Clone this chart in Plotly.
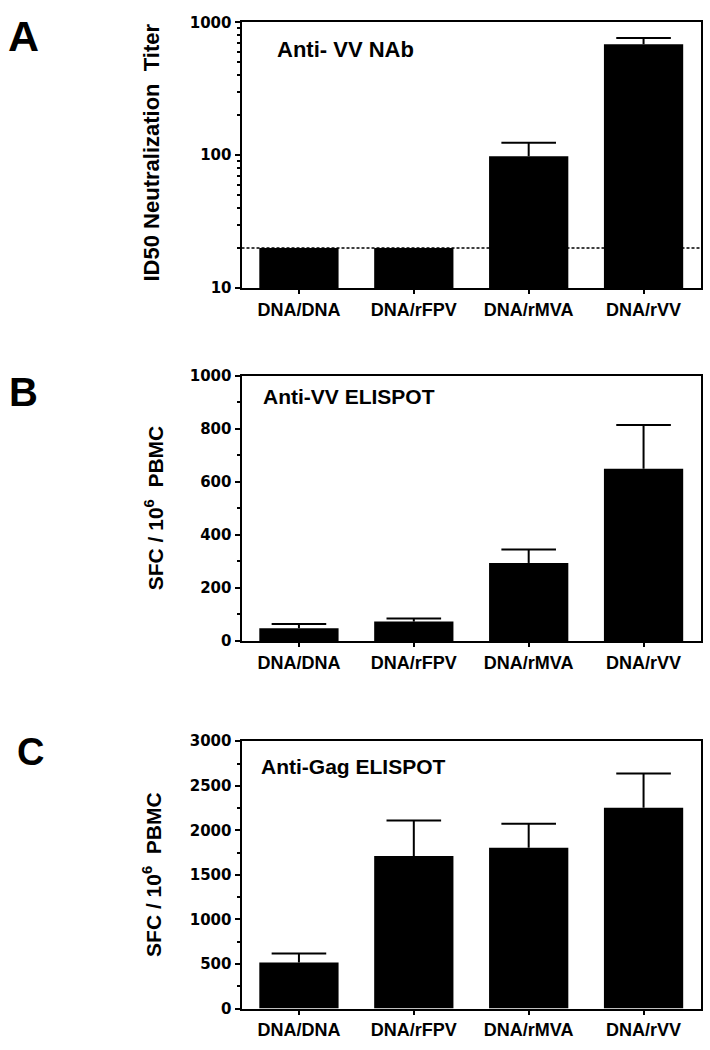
import math
import plotly.graph_objects as go

# ---------------- data ----------------
categories = ["DNA/DNA", "DNA/rFPV", "DNA/rMVA", "DNA/rVV"]

nab_titer = [20, 20, 98, 683]          # panel A, ID50 neutralization titer
nab_sem = [None, None, 26, 79]         # upward error
nab_limit = 20                         # detection limit (dotted line)

vv_sfc = [48, 73, 294, 649]            # panel B, anti-VV ELISPOT
vv_sem = [16, 12, 51, 165]

gag_sfc = [516, 1712, 1804, 2254]      # panel C, anti-Gag ELISPOT
gag_sem = [102, 399, 271, 384]

a_ticks = [10, 100, 1000]
a_minor = [20, 30, 40, 50, 60, 70, 80, 90, 200, 300, 400, 500, 600, 700, 800, 900]

# ---------------- layout helpers ----------------
W, H = 710, 1050


def px(x):
    return x / W


def py(y):
    return 1 - y / H


X_DOM = [px(241.5), px(701)]
Y_DOMS = [
    [py(284), py(13.5)],
    [py(643), py(373)],
    [py(1017), py(745)],
]

BOLD = "Liberation Sans, Arial, sans-serif"
TICKFONT_Y = dict(family="DejaVu Sans, sans-serif", size=15, color="black", weight="bold")
TICKFONT_X = dict(family=BOLD, size=18, color="black", weight="bold")

fig = go.Figure()


def add_bars(vals, errs, idx):
    suffix = "" if idx == 1 else str(idx)
    xa, ya = "x" + suffix, "y" + suffix
    fig.add_trace(go.Bar(
        x=categories, y=vals, xaxis=xa, yaxis=ya,
        marker=dict(color="black", line=dict(width=0)),
        showlegend=False, hoverinfo="x+y",
    ))
    # upward-only error bars: a cap marker at mean+error with a stem down to the mean
    tops = [None if e is None else v + e for v, e in zip(vals, errs)]
    down = [None if e is None else e for e in errs]
    fig.add_trace(go.Scatter(
        x=categories, y=tops, xaxis=xa, yaxis=ya, mode="markers",
        marker=dict(symbol="line-ew-open", size=39, color="black",
                    line=dict(color="black", width=2)),
        error_y=dict(type="data", symmetric=False, array=[0] * len(errs), arrayminus=down,
                     color="black", thickness=2, width=0),
        showlegend=False, hoverinfo="skip", cliponaxis=False,
    ))


add_bars(nab_titer, nab_sem, 1)
add_bars(vv_sfc, vv_sem, 2)
add_bars(gag_sfc, gag_sem, 3)

layout = dict(
    width=W, height=H,
    margin=dict(l=0, r=0, t=0, b=0),
    paper_bgcolor="white", plot_bgcolor="white",
    bargap=0.31,
    showlegend=False,
)

common_x = dict(
    domain=X_DOM, type="category", range=[-0.5, 3.5],
    showline=True, linecolor="black", linewidth=2, mirror=True,
    ticks="outside", ticklen=4, tickwidth=2, tickcolor="black",
    tickfont=TICKFONT_X, showgrid=False, zeroline=False,
)
common_y = dict(
    showline=True, linecolor="black", linewidth=2, mirror=True,
    ticks="outside", ticklen=5, tickwidth=2, tickcolor="black",
    tickfont=TICKFONT_Y, showgrid=False, zeroline=False,
)

a_lo, a_hi = math.log10(a_ticks[0]), math.log10(a_ticks[-1])

# panel A (log)
layout["xaxis"] = dict(common_x, anchor="y")
layout["yaxis"] = dict(common_y, anchor="x", domain=Y_DOMS[0], type="log",
                       range=[a_lo, a_hi],
                       tickmode="array", tickvals=a_ticks, ticktext=[str(t) for t in a_ticks],
                       minor=dict(tickmode="array", tickvals=a_minor, ticks="outside",
                                  ticklen=3, tickwidth=1.5, tickcolor="black", showgrid=False))
# panel B
layout["xaxis2"] = dict(common_x, anchor="y2")
layout["yaxis2"] = dict(common_y, anchor="x2", domain=Y_DOMS[1], range=[0, 1000],
                        tickmode="linear", tick0=0, dtick=200,
                        minor=dict(dtick=100, ticks="outside", ticklen=3, tickwidth=1.5,
                                   tickcolor="black", showgrid=False))
# panel C
layout["xaxis3"] = dict(common_x, anchor="y3")
layout["yaxis3"] = dict(common_y, anchor="x3", domain=Y_DOMS[2], range=[0, 3000],
                        tickmode="linear", tick0=0, dtick=500,
                        minor=dict(dtick=250, ticks="outside", ticklen=3, tickwidth=1.5,
                                   tickcolor="black", showgrid=False))

fig.update_layout(**layout)

# detection-limit dotted line in panel A (position as a fraction of the log axis)
lod_frac = (math.log10(nab_limit) - a_lo) / (a_hi - a_lo)
fig.add_shape(type="line", xref="x domain", yref="y domain", x0=0, x1=1,
              y0=lod_frac, y1=lod_frac,
              line=dict(color="black", width=1.5, dash="3px,2px"), layer="above")

annotations = []
# panel letters
for letter, x, y, size in [("A", 23, 27.5, 43), ("B", 24, 390, 40), ("C", 31, 755.5, 38)]:
    annotations.append(dict(text=letter, x=px(x), y=py(y), xref="paper", yref="paper",
                            xanchor="center", yanchor="middle", showarrow=False,
                            font=dict(family=BOLD, size=size, color="black", weight="bold")))
# inner titles
for txt, x, y, size in [("Anti- VV NAb", 275, 41.5, 22),
                        ("Anti-VV ELISPOT", 261, 394.5, 21),
                        ("Anti-Gag ELISPOT", 259, 770.5, 21)]:
    annotations.append(dict(text=txt, x=px(x), y=py(y), xref="paper", yref="paper",
                            xanchor="left", yanchor="middle", showarrow=False,
                            font=dict(family=BOLD, size=size, color="black", weight="bold")))
# y-axis titles
for txt, x, y, size in [("ID50 Neutralization  Titer", 151, 146, 22),
                        ("SFC / 10<sup>6</sup>  PBMC", 154, 508, 21),
                        ("SFC / 10<sup>6</sup>  PBMC", 152, 881, 21)]:
    annotations.append(dict(text=txt, x=px(x), y=py(y), xref="paper", yref="paper",
                            xanchor="center", yanchor="middle", showarrow=False, textangle=-90,
                            font=dict(family=BOLD, size=size, color="black", weight="bold")))

fig.update_layout(annotations=annotations)

fig.write_html("out.html", config={"displayModeBar": False},
               post_script="document.body.style.margin='0';document.body.style.overflow='hidden';")
